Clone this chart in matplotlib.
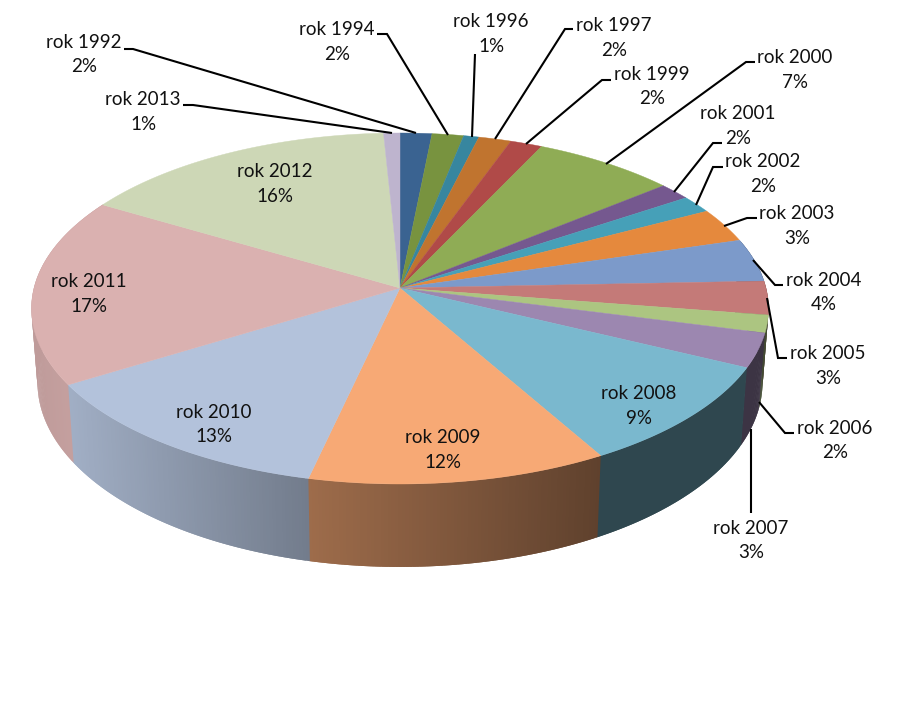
import numpy as np
import matplotlib
matplotlib.use("Agg")
import matplotlib.pyplot as plt
from matplotlib.patches import Polygon
from matplotlib.collections import PolyCollection

years = ["1992", "1994", "1996", "1997", "1999", "2000", "2001", "2002", "2003", "2004",
         "2005", "2006", "2007", "2008", "2009", "2010", "2011", "2012", "2013"]
values = [1.56, 1.55, 0.75, 1.60, 1.57, 7.03, 1.58, 1.61, 3.15, 3.96,
          3.09, 1.61, 3.14, 9.60, 11.76, 12.64, 17.30, 15.70, 0.80]
percent_labels = [2, 2, 1, 2, 2, 7, 2, 2, 3, 4, 3, 2, 3, 9, 12, 13, 17, 16, 1]
colors = ["#3A6391", "#78933F", "#37869F", "#C0742F", "#B04A48", "#8FAC55", "#75588F",
          "#46A0B8", "#E5893D", "#7C9ACA", "#C47A78", "#ACC581", "#9C87B0", "#7AB8CE",
          "#F7A975", "#B3C2DB", "#DAB1B0", "#CDD7B6", "#BEB4CE"]

label_xy = {"1992": (84, 41), "1994": (337, 28), "1996": (491, 20), "1997": (614, 24),
            "1999": (652, 73), "2000": (795, 56), "2001": (738, 112), "2002": (763, 160),
            "2003": (797, 212), "2004": (824, 279), "2005": (828, 352), "2006": (835, 427),
            "2007": (751, 527), "2008": (639, 392), "2009": (443, 436), "2010": (214, 411),
            "2011": (89, 280), "2012": (275, 170), "2013": (143, 98)}
leaders = [[(124, 49), (133, 49), (416, 133)], [(183, 105), (193, 105), (392, 133)],
           [(377, 34), (387, 34), (448, 135)], [(475, 54), (472, 137)],
           [(573, 29), (565, 29), (495, 139)], [(611, 80), (602, 80), (526, 144)],
           [(755, 62), (746, 62), (606, 164)], [(722, 143), (713, 143), (674, 192)],
           [(723, 167), (713, 167), (696, 205)], [(757, 218), (747, 218), (724, 226)],
           [(753, 260), (775, 285), (783, 285)], [(767, 298), (778, 358), (787, 358)],
           [(759, 402), (785, 433), (794, 433)], [(751, 429), (751, 513)]]

plt.rcParams["font.family"] = ["Lato", "DejaVu Sans"]
fig = plt.figure(figsize=(9.14, 7.21), dpi=100)
ax = fig.add_axes([0, 0, 1, 1])
ax.set_xlim(0, 914)
ax.set_ylim(721, 0)
ax.axis("off")

K = 0.1168


def top(t):
    X, Y = np.sin(t), np.cos(t)
    d = 1 + K * Y
    return 400 + 366 * X / d, 288 - 173.1 * Y / d


def bottom(t):
    X, Y = np.sin(t), np.cos(t)
    d = 1 + K * Y
    return 400 + 360 * X / d, 361.1 - 181.8 * Y / d


vals = np.array(values)
edges = np.radians(np.concatenate([[0], np.cumsum(vals)]) / vals.sum() * 360)

# side wall, shaded horizontally; each strip runs under the next one to avoid seams
for i, c in enumerate(colors):
    a, b = edges[i], edges[i + 1]
    if b < np.radians(85) or a > np.radians(290):
        continue
    ts = np.linspace(a, b, max(3, int((b - a) * 120)))
    rgb = np.array(matplotlib.colors.to_rgb(c))
    polys, cols = [], []
    for j in range(len(ts) - 1):
        t0 = ts[j]
        t1 = ts[j + 2] if j + 2 < len(ts) else b + 0.006
        x0, y0 = top(t0)
        x1, y1 = top(t1)
        x2, y2 = bottom(t1)
        x3, y3 = bottom(t0)
        polys.append([(x0, y0), (x1, y1), (x2, y2), (x3, y3)])
        xm = bottom(ts[j])[0]
        f = np.interp(xm, [30, 73, 310, 600, 800], [0.87, 0.90, 0.64, 0.385, 0.385])
        cols.append(rgb * f)
    ax.add_collection(PolyCollection(polys, facecolors=cols, edgecolors="none", linewidths=0, zorder=2 + i * 0.001))

# top face
for i, c in enumerate(colors):
    ts = np.linspace(edges[i], edges[i + 1], 80)
    x, y = top(ts)
    ax.add_patch(Polygon(np.r_[[[400, 288]], np.c_[x, y]], closed=True, facecolor=c,
                         edgecolor=c, linewidth=0.3, zorder=3))

for pts in leaders:
    p = np.array(pts)
    ax.plot(p[:, 0], p[:, 1], color="black", lw=1.5, solid_capstyle="butt",
            solid_joinstyle="miter", zorder=4)

for y, pct in zip(years, percent_labels):
    lx, ly = label_xy[y]
    ax.text(lx, ly + 1.5, f"rok {y}", ha="center", va="center", fontsize=13.5, color="#111111", zorder=5)
    ax.text(lx, ly + 26, f"{pct}%", ha="center", va="center", fontsize=13.5, color="#111111", zorder=5)

fig.savefig("out.png", dpi=100, facecolor="white")
